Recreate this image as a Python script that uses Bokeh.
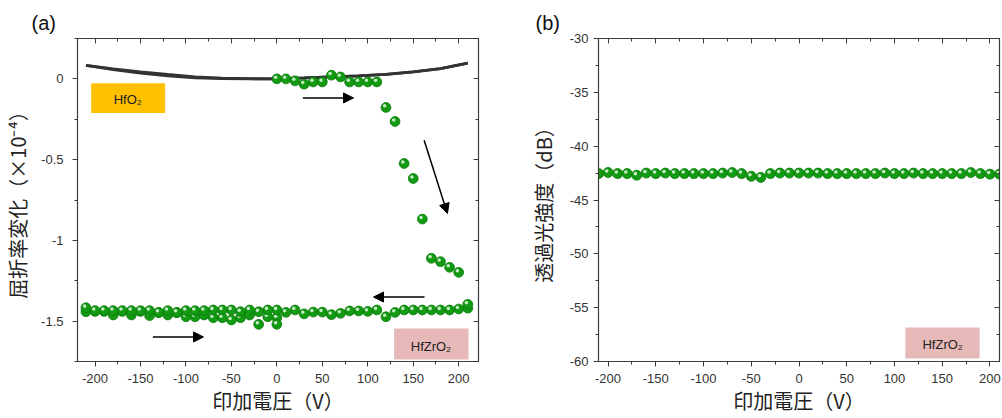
from bokeh.plotting import figure
from bokeh.layouts import row
from bokeh.models import (Range1d, LinearAxis, FixedTicker, CustomJSTickFormatter,
                          Label, BoxAnnotation, Arrow, NormalHead)
from bokeh.embed import file_html
from bokeh.resources import INLINE

# ---------------- data: panel (a) ----------------
hfo2_v = [-210, -180, -150, -120, -90, -60, -30, 0, 30, 60, 90, 120, 150, 180, 210]
hfo2_fwd = [0.083, 0.058, 0.036, 0.018, 0.007, 0.002, 0.000, 0.000, 0.006, 0.013, 0.019, 0.028, 0.043, 0.063, 0.097]
hfo2_bwd = [0.083, 0.062, 0.044, 0.027, 0.013, 0.005, 0.001, 0.000, 0.006, 0.013, 0.019, 0.028, 0.043, 0.063, 0.097]

sweep1_v = [0, 10, 20, 30, 40, 50, 60, 70, 80, 90, 100, 110, 120, 130, 140, 150, 160, 170, 180, 190, 200, 210]
sweep1_n = [0.000, 0.000, -0.012, -0.033, -0.019, -0.019, 0.023, 0.012, -0.019, -0.019, -0.019, -0.019,
            -0.177, -0.264, -0.524, -0.617, -0.868, -1.111, -1.132, -1.167, -1.198, -1.396]

sweep2_v = [210, 200, 190, 180, 170, 160, 150, 140, 130, 120, 110, 100, 90, 80, 70, 60, 50, 40, 30, 20, 10, 0,
            -10, -20, -30, -40, -50, -60, -70, -80, -90, -100, -110, -120, -130, -140, -150, -160, -170, -180,
            -190, -200, -210]
sweep2_n = [-1.420, -1.425, -1.431, -1.431, -1.431, -1.431, -1.431, -1.431, -1.446, -1.473, -1.431, -1.440,
            -1.437, -1.437, -1.452, -1.460, -1.444, -1.444, -1.455, -1.431, -1.446, -1.431,
            -1.431, -1.442, -1.431, -1.442, -1.431, -1.431, -1.431, -1.435, -1.435, -1.435, -1.446, -1.435,
            -1.446, -1.435, -1.435, -1.435, -1.435, -1.435, -1.435, -1.435, -1.417]

sweep3_v = [-210, -200, -190, -180, -170, -160, -150, -140, -130, -120, -110, -100, -90, -80, -70, -60, -50,
            -40, -30, -20, -10, 0, 0]
sweep3_n = [-1.442, -1.440, -1.440, -1.462, -1.440, -1.462, -1.440, -1.466, -1.448, -1.462, -1.448, -1.473,
            -1.473, -1.462, -1.479, -1.479, -1.493, -1.479, -1.462, -1.520, -1.473, -1.479, -1.520]

a_x_major = [-200, -150, -100, -50, 0, 50, 100, 150, 200]
a_x_minor = [-175, -125, -75, -25, 25, 75, 125, 175]
a_y_major = [-1.5, -1.0, -0.5, 0.0]
a_y_minor = [-1.75, -1.25, -0.75, -0.25, 0.25]

# ---------------- data: panel (b) ----------------
trans_v = [-210, -200, -190, -180, -170, -160, -150, -140, -130, -120, -110, -100, -90, -80, -70, -60, -50,
           -40, -30, -20, -10, 0, 10, 20, 30, 40, 50, 60, 70, 80, 90, 100, 110, 120, 130, 140, 150, 160, 170,
           180, 190, 200, 210]
trans_db = [-42.55, -42.45, -42.55, -42.55, -42.70, -42.50, -42.55, -42.50, -42.55, -42.55, -42.55, -42.55,
            -42.55, -42.50, -42.45, -42.55, -42.80, -42.90, -42.55, -42.50, -42.50, -42.50, -42.50, -42.50,
            -42.55, -42.55, -42.55, -42.55, -42.55, -42.55, -42.50, -42.55, -42.55, -42.50, -42.55, -42.55,
            -42.55, -42.55, -42.55, -42.45, -42.55, -42.60, -42.60]

b_x_major = [-200, -150, -100, -50, 0, 50, 100, 150, 200]
b_x_minor = [-175, -125, -75, -25, 25, 75, 125, 175]
b_y_major = [-60, -55, -50, -45, -40, -35, -30]
b_y_minor = [-57.5, -52.5, -47.5, -42.5, -37.5, -32.5]

# ---------------- style ----------------
AXC = "#3c3c3c"
TICK_FONT = "Liberation Sans"
CJK = "Noto Sans CJK JP"
GREEN = "#139a13"
GREEN_EDGE = "#0a7a0a"
HILITE = "#cdefcd"

FRAME_W = 401
FRAME_H = 323
TOP = 38
H = 418


def style_main_axes(p, xt, xm, yt, ym, ylabel_standoff, xlabel, ylabel, ytitle_standoff):
    for ax in p.xaxis:
        ax.ticker = FixedTicker(ticks=xt, minor_ticks=xm)
        ax.major_label_standoff = 7
        ax.axis_label = xlabel
        ax.axis_label_standoff = 0
    for ax in p.yaxis:
        ax.ticker = FixedTicker(ticks=yt, minor_ticks=ym)
        ax.major_label_standoff = ylabel_standoff
        ax.axis_label = ylabel
        ax.axis_label_standoff = ytitle_standoff
    for ax in list(p.xaxis) + list(p.yaxis):
        ax.formatter = CustomJSTickFormatter(code="return tick.toString()")
        ax.major_tick_in = 0
        ax.major_tick_out = 5
        ax.minor_tick_in = 0
        ax.minor_tick_out = 3
        ax.axis_line_color = AXC
        ax.axis_line_width = 1.2
        ax.major_tick_line_color = AXC
        ax.minor_tick_line_color = AXC
        ax.major_label_text_font = TICK_FONT
        ax.major_label_text_font_size = "13px"
        ax.major_label_text_color = "#333333"
        ax.axis_label_text_font = CJK
        ax.axis_label_text_font_size = "20px"
        ax.axis_label_text_font_style = "normal"
        ax.axis_label_text_color = "#222222"


def mirror_axes(p, xt, xm, yt, ym):
    for loc, tk in (("above", (xt, xm)), ("right", (yt, ym))):
        ax = LinearAxis(ticker=FixedTicker(ticks=tk[0], minor_ticks=tk[1]),
                        formatter=CustomJSTickFormatter(code="return ''"),
                        major_tick_in=5, major_tick_out=0, minor_tick_in=3, minor_tick_out=0,
                        major_label_text_font_size="0px", major_label_standoff=0,
                        axis_line_color=AXC, axis_line_width=1.2,
                        major_tick_line_color=AXC, minor_tick_line_color=AXC)
        p.add_layout(ax, loc)


def style_title(p, text, offset):
    p.title.text = text
    p.title.align = "left"
    p.title.offset = offset
    p.title.standoff = 9
    p.title.text_font = TICK_FONT
    p.title.text_font_size = "20px"
    p.title.text_font_style = "normal"
    p.title.text_color = "#111111"


def spheres(p, xs, ys, size, ppx, ppy):
    p.scatter(xs, ys, size=size, fill_color=GREEN, line_color=GREEN_EDGE, line_width=0.8)
    hx = [x - 1.3 / ppx for x in xs]
    hy = [y + 1.6 / ppy for y in ys]
    p.scatter(hx, hy, size=size * 0.36, fill_color=HILITE, line_color=None, fill_alpha=0.95)


# ================= panel (a) =================
ax_lo, ax_hi = -219.3, 221.8
ay_lo, ay_hi = -1.75, 0.25
pa = figure(width=508, height=H, output_backend="svg", toolbar_location=None,
            x_range=Range1d(ax_lo, ax_hi), y_range=Range1d(ay_lo, ay_hi),
            min_border_left=77, min_border_right=508 - 77 - FRAME_W, min_border_top=TOP,
            min_border_bottom=H - TOP - FRAME_H)
pa.grid.visible = False
pa.outline_line_color = AXC
style_main_axes(pa, a_x_major, a_x_minor, a_y_major, a_y_minor, 9,
                "印加電圧（V）", "屈折率変化（×10⁻⁴）", 6)
mirror_axes(pa, a_x_major, a_x_minor, a_y_major, a_y_minor)
style_title(pa, "(a)", -46)

a_ppx = FRAME_W / (ax_hi - ax_lo)
a_ppy = FRAME_H / (ay_hi - ay_lo)

pa.line(hfo2_v, hfo2_fwd, line_color="#333333", line_width=2.8)
pa.line(hfo2_v, hfo2_bwd, line_color="#333333", line_width=2.8)

spheres(pa, sweep3_v, sweep3_n, 9.8, a_ppx, a_ppy)
spheres(pa, sweep2_v, sweep2_n, 9.8, a_ppx, a_ppy)
spheres(pa, sweep1_v, sweep1_n, 9.8, a_ppx, a_ppy)

head = dict(size=10, fill_color="black", line_color="black", line_width=1)
pa.add_layout(Arrow(x_start=28.6, y_start=-0.118, x_end=84.3, y_end=-0.118,
                    line_width=1.5, line_color="black", end=NormalHead(**head)))
pa.add_layout(Arrow(x_start=162.0, y_start=-0.38, x_end=187.6, y_end=-0.834,
                    line_width=1.5, line_color="black", end=NormalHead(**head)))
pa.add_layout(Arrow(x_start=162.4, y_start=-1.351, x_end=106.3, y_end=-1.351,
                    line_width=1.5, line_color="black", end=NormalHead(**head)))
pa.add_layout(Arrow(x_start=-136.4, y_start=-1.598, x_end=-80.7, y_end=-1.598,
                    line_width=1.5, line_color="black", end=NormalHead(**head)))

pa.add_layout(BoxAnnotation(left=-204.3, right=-122.9, top=-0.027, bottom=-0.212,
                            fill_color="#FFC000", fill_alpha=1.0, line_color=None, level="underlay"))
pa.add_layout(Label(x=-164, y=-0.128, text="HfO₂", text_align="center", text_baseline="middle",
                    text_font=TICK_FONT, text_font_size="13px", text_color="#222222"))
pa.add_layout(BoxAnnotation(left=129.0, right=210.8, top=-1.545, bottom=-1.737,
                            fill_color="#E6B9B8", fill_alpha=1.0, line_color=None, level="underlay"))
pa.add_layout(Label(x=169.5, y=-1.655, text="HfZrO₂", text_align="center", text_baseline="middle",
                    text_font=TICK_FONT, text_font_size="13px", text_color="#222222"))

# ================= panel (b) =================
bx_lo, bx_hi = -210.0, 210.0
by_lo, by_hi = -60.0, -30.0
pb = figure(width=494, height=H, output_backend="svg", toolbar_location=None,
            x_range=Range1d(bx_lo, bx_hi), y_range=Range1d(by_lo, by_hi),
            min_border_left=90, min_border_right=494 - 90 - FRAME_W, min_border_top=TOP,
            min_border_bottom=H - TOP - FRAME_H)
pb.grid.visible = False
pb.outline_line_color = AXC
style_main_axes(pb, b_x_major, b_x_minor, b_y_major, b_y_minor, 5,
                "印加電圧（V）", "透過光強度（dB）", 9)
mirror_axes(pb, b_x_major, b_x_minor, b_y_major, b_y_minor)
style_title(pb, "(b)", -63)

b_ppx = FRAME_W / (bx_hi - bx_lo)
b_ppy = FRAME_H / (by_hi - by_lo)
spheres(pb, trans_v, trans_db, 10, b_ppx, b_ppy)

pb.add_layout(BoxAnnotation(left=111.4, right=189.2, top=-56.84, bottom=-59.72,
                            fill_color="#E6B9B8", fill_alpha=1.0, line_color=None, level="underlay"))
pb.add_layout(Label(x=150.5, y=-58.4, text="HfZrO₂", text_align="center", text_baseline="middle",
                    text_font=TICK_FONT, text_font_size="13px", text_color="#222222"))

layout = row(pa, pb)
open("out.html", "w").write(file_html(layout, INLINE))
